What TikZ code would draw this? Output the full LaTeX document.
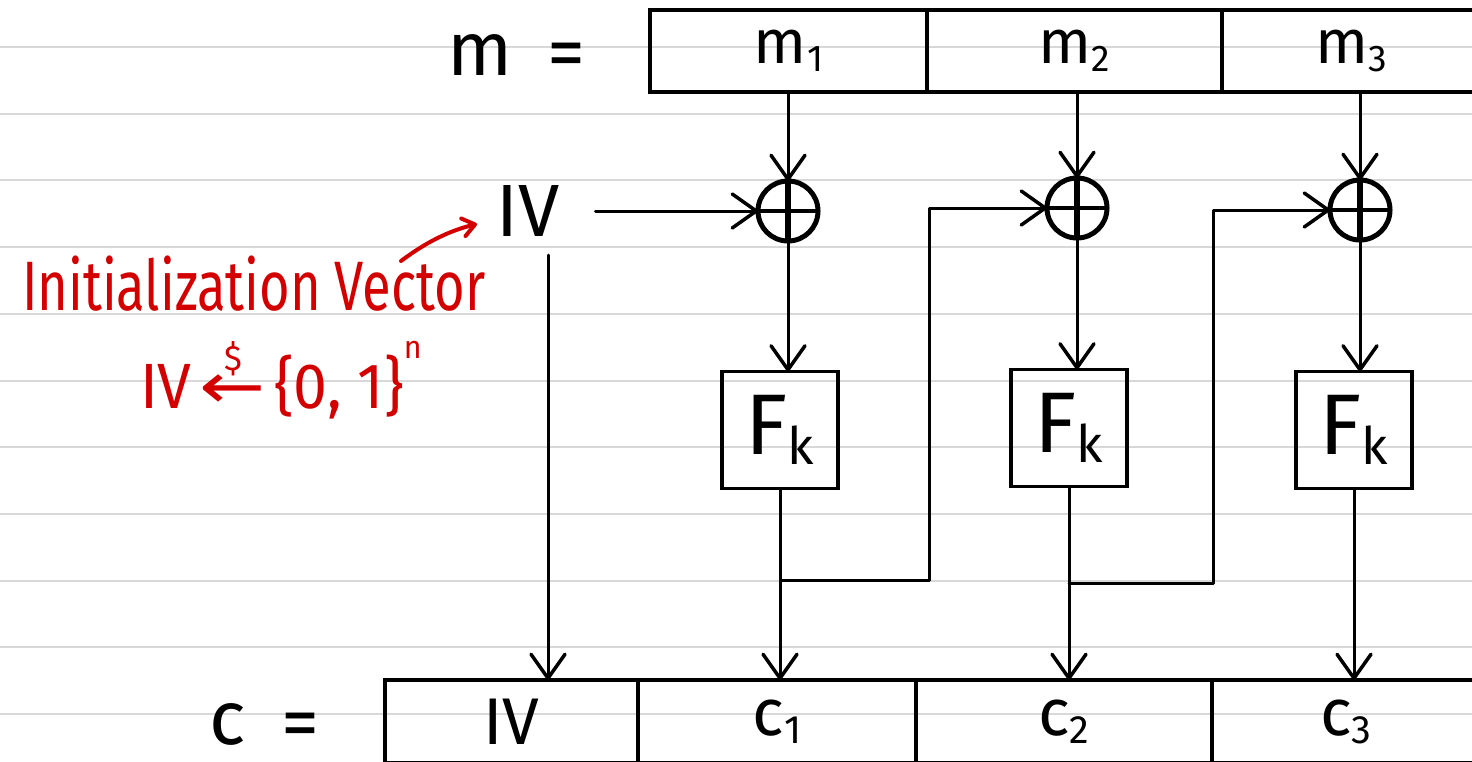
\documentclass[tikz,border=0pt]{standalone}
\usepackage{fontspec}
\setmainfont{Fira Sans}
\newfontfamily\djv{DejaVu Sans}
\usetikzlibrary{arrows.meta}
\definecolor{redink}{RGB}{212,0,0}
\definecolor{rulegray}{RGB}{216,216,216}
\newcommand\lowsub[1]{\raisebox{-0.12em}{\scalebox{0.6}{#1}}}
\begin{document}
\begin{tikzpicture}[x=1pt,y=-1pt,
  every node/.style={inner sep=0pt,outer sep=0pt},
  ruleline/.style={draw=rulegray,line width=2pt},
  conn/.style={line width=3pt,line cap=round,line join=round},
  arr/.style={conn,-{Straight Barb[length=24pt,width=34pt,line width=3.5pt,round]}},
  cell/.style={draw,line width=3.5pt,minimum height=82pt,font=\fontsize{62}{66}\selectfont},
  ccell/.style={draw,line width=3.5pt,minimum height=83pt,font=\fontsize{66}{70}\selectfont},
  xorn/.style={circle,draw,line width=5pt,minimum size=60pt,
    path picture={\draw[line width=6pt] (path picture bounding box.north) -- (path picture bounding box.south);
                  \draw[line width=4.5pt] (path picture bounding box.west) -- (path picture bounding box.east);}},
  fkbox/.style={draw,line width=3.5pt,minimum width=116pt,minimum height=117pt,font=\fontsize{86}{90}\selectfont},
  biglab/.style={font=\fontsize{76}{80}\selectfont},
  ivlab/.style={font=\fontsize{74}{78}\selectfont},
  redtxt/.style={text=redink,font=\fontsize{70}{74}\selectfont},
  redarr/.style={draw=redink,line width=4pt,line cap=round,-{Straight Barb[length=12pt,width=18pt,line width=4pt,round]}}
]
\useasboundingbox (0,0) rectangle (1472,761);
% ruled paper
\foreach \k in {0,...,10} {\draw[ruleline] (0,{47+66.7*\k}) -- (1472,{47+66.7*\k});}

% message row
\node[biglab,anchor=base] (mlab) at (480,75) {m};
\node[biglab,anchor=base] (meq) at (566,78) {=};
\node[cell,minimum width=277pt] (m1) at (788.5,51) {m\lowsub{1}};
\node[cell,minimum width=295pt] (m2) at (1074.5,51) {m\lowsub{2}};
\node[cell,minimum width=258pt] (m3) at (1351,51) {m\lowsub{3}};

% IV
\node[ivlab] (iv) at (528,211) {IV};
\coordinate (ivs) at (548,255);

% XORs
\node[xorn] (x1) at (788,211) {};
\node[xorn] (x2) at (1077,208) {};
\node[xorn] (x3) at (1360,210) {};

% F_k boxes
\node[fkbox] (f1) at (780,430) {F\lowsub{k}};
\node[fkbox] (f2) at (1069,428) {F\lowsub{k}};
\node[fkbox] (f3) at (1354,430) {F\lowsub{k}};

% ciphertext row
\node[biglab,anchor=base] (clab) at (228,744) {c};
\node[biglab,anchor=base] (ceq) at (300,748) {=};
\node[ccell,minimum width=253pt] (civ) at (511.5,721.5) {IV};
\node[ccell,minimum width=278pt] (c1) at (777,721.5) {c\lowsub{1}};
\node[ccell,minimum width=296pt] (c2) at (1064,721.5) {c\lowsub{2}};
\node[ccell,minimum width=268pt] (c3) at (1346,721.5) {c\lowsub{3}};

% connectors
\draw[arr] (m1.south -| x1.north) -- (x1.north);
\draw[arr] (m2.south -| x2.north) -- (x2.north);
\draw[arr] (m3.south -| x3.north) -- (x3.north);
\draw[arr,shorten <=36pt] (iv.east) -- (x1.west);
\draw[arr] (x1.south) -- (x1.south |- f1.north);
\draw[arr] (x2.south) -- (x2.south |- f2.north);
\draw[arr] (x3.south) -- (x3.south |- f3.north);
\draw[arr] (ivs) -- (ivs |- civ.north);
\draw[arr] (f1.south) -- (f1.south |- c1.north);
\draw[arr] (f2.south) -- (f2.south |- c2.north);
\draw[arr] (f3.south) -- (f3.south |- c3.north);
\coordinate (b1) at (782,580);
\coordinate (j1) at (929,580);
\draw[arr] (b1) -- (j1) |- (x2.west);
\coordinate (b2) at (1069,583);
\coordinate (j2) at (1213,583);
\draw[arr] (b2) -- (j2) |- (x3.west);

% red annotations
\node[redtxt,xscale=0.75,anchor=base west] (ivname) at (22,310) {Initialization Vector};
\coordinate (ra) at (401,261);
\coordinate (rb) at (477,224);
\draw[redarr] (ra) .. controls (425,243) and (448,231) .. (rb);
\node[redtxt,font=\fontsize{64}{68}\selectfont,xscale=0.95,anchor=base west] (ivdef) at (140,408)
  {IV\hspace{0.12em}\makebox[0pt][l]{\hspace{0.42em}\raisebox{0.58em}{\scalebox{0.55}{\$}}}{\djv\scalebox{1.3}[1]{←}}\hspace{0.15em}\{0, 1\}\raisebox{0.78em}{\scalebox{0.5}{n}}};
\end{tikzpicture}
\end{document}
